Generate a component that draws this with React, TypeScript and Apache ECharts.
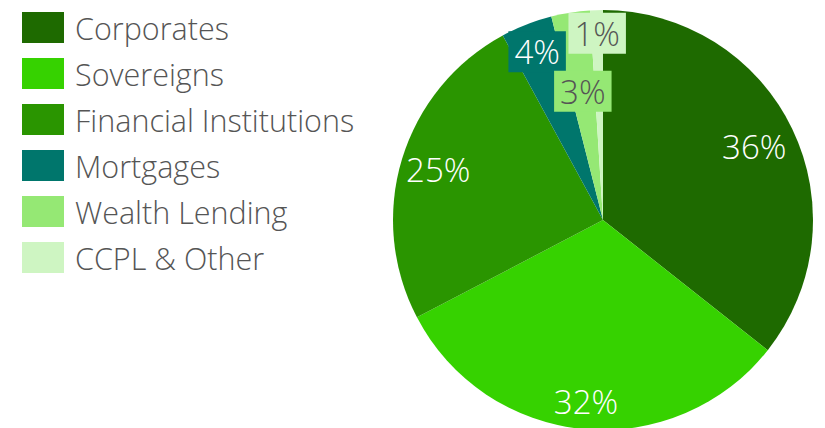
import React, { useEffect, useRef } from "react";
import * as echarts from "echarts";

// Loan book composition by segment (%)
const categories = [
  "Corporates",
  "Sovereigns",
  "Financial Institutions",
  "Mortgages",
  "Wealth Lending",
  "CCPL & Other",
];
const shares = [36, 32, 25, 4, 3, 1];
const sliceColors = ["#1e6a00", "#36d200", "#2a9500", "#00766c", "#95e874", "#cef5c2"];
const labelColors = ["#ffffff", "#ffffff", "#ffffff", "#ffffff", "#555555", "#555555"];
// small slices get a boxed label in the slice colour
const boxedLabel = [false, false, false, true, true, true];
// how far along the radius each percentage label sits (fraction of radius)
const labelRadius = [0.8, 0.87, 0.82, 0.86, 0.62, 0.89];

const CENTER_X = 603;
const CENTER_Y = 220;
const RADIUS = 210;
const FONT = "'Open Sans', Lato, sans-serif";

export default function App() {
  const ref = useRef<HTMLDivElement>(null);

  useEffect(() => {
    document.body.style.margin = "0";
    if (!ref.current) return;
    const chart = echarts.init(ref.current, undefined, { renderer: "svg" });
    const total = shares.reduce((a, b) => a + b, 0);
    const cumulative: number[] = [];
    shares.reduce((acc, v) => {
      cumulative.push(acc);
      return acc + v;
    }, 0);

    chart.setOption({
      animation: false,
      backgroundColor: "#ffffff",
      legend: {
        orient: "vertical",
        left: 22,
        top: 12,
        padding: 0,
        itemWidth: 42,
        itemHeight: 31,
        itemGap: 15,
        icon: "rect",
        selectedMode: false,
        data: categories,
        textStyle: {
          fontFamily: FONT,
          fontSize: 30.5,
          fontWeight: 300,
          color: "#555555",
          padding: [0, 0, 0, 6],
        },
      },
      series: [
        {
          type: "pie",
          center: [CENTER_X, CENTER_Y],
          radius: [0, RADIUS],
          startAngle: 90,
          clockwise: true,
          avoidLabelOverlap: false,
          selectedMode: false,
          silent: true,
          itemStyle: { borderWidth: 0 },
          labelLine: { show: false },
          label: {
            show: true,
            position: "inside",
            fontFamily: FONT,
            fontSize: 33,
            fontWeight: 300,
            lineHeight: 35,
            padding: [3, 6, 3, 6],
            formatter: (p: any) => `${p.value}%`,
          },
          labelLayout: (params: any) => {
            const i = params.dataIndex;
            const a = ((cumulative[i] + shares[i] / 2) / total) * Math.PI * 2;
            const k = labelRadius[i] * RADIUS;
            return {
              x: CENTER_X + k * Math.sin(a),
              y: CENTER_Y - k * Math.cos(a),
              align: "center",
              verticalAlign: "middle",
            };
          },
          data: categories.map((name, i) => ({
            name,
            value: shares[i],
            itemStyle: { color: sliceColors[i] },
            label: {
              color: labelColors[i],
              backgroundColor: boxedLabel[i] ? sliceColors[i] : "transparent",
            },
          })),
        },
      ],
    });

    return () => chart.dispose();
  }, []);

  return <div ref={ref} style={{ width: 825, height: 428 }} />;
}
